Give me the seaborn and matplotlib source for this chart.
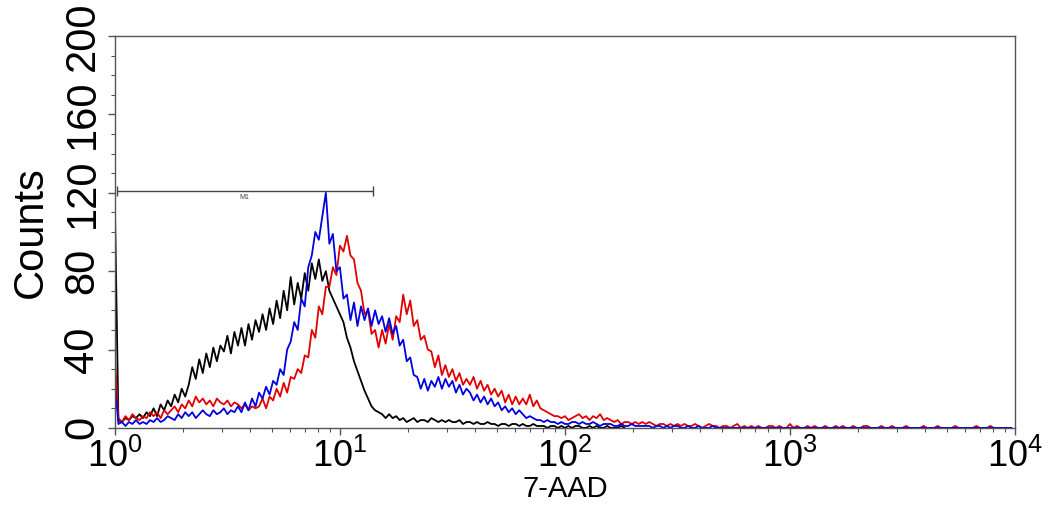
import matplotlib
import matplotlib.pyplot as plt
import matplotlib.ticker as mticker
import numpy as np
import pandas as pd
import seaborn as sns

matplotlib.use("agg")

# channels per decade of the 4-decade log scale
channels_per_decade = 64

# counts per channel (channel 0 = 10^0)
control_counts = [
    114, 4, 3, 5, 4, 6, 5, 7, 5, 8, 6,
    10, 6, 12, 9, 14, 11, 17, 13, 20, 16,
    22, 31, 25, 35, 28, 38, 31, 41, 34, 42,
    39, 47, 38, 49, 42, 51, 42, 53, 45, 55,
    49, 58, 50, 61, 53, 65, 56, 70, 60, 77,
    63, 74, 66, 79, 70, 84, 76, 86, 75, 80,
    70, 66, 62, 58, 54, 46, 41, 34, 29, 24,
    19, 15, 11, 9, 8, 7, 5, 7, 5, 6,
    4, 5, 3, 4, 5, 3, 4, 4, 3, 5, 4, 3, 4, 3, 4, 3, 3, 4, 2, 3,
    3, 2, 3, 2, 2, 3, 2, 2, 1, 2, 2, 1, 2, 2, 1, 2, 1, 1, 2, 1,
    1, 1, 0, 1, 1, 0, 1, 0,
    1, 0, 1, 1, 0, 0, 1, 0, 1, 0, 0, 1, 0, 0, 0, 1, 0,
]
treated_a_counts = [
    36, 5, 3, 6, 4, 7, 5, 4, 6, 5, 8,
    6, 8, 5, 9, 7, 9, 11, 8, 12, 10,
    14, 11, 16, 13, 15, 12, 14, 11, 15, 13,
    12, 14, 11, 13, 12, 10, 12, 9, 11, 10,
    11, 15, 10, 16, 14, 20, 16, 23, 18, 26,
    25, 30, 28, 37, 36, 50, 46, 62, 58, 72,
    72, 82, 78, 93, 90, 98, 88, 86, 74, 70,
    58, 60, 48, 50, 41, 50, 43, 53, 45, 57,
    54, 68, 58, 65, 52, 55, 45, 47, 40, 39,
    31, 37, 27, 32, 26, 30, 24, 28, 22, 25,
    22, 26, 20, 24, 19, 22, 17, 20, 16, 19,
    13, 17, 12, 16, 12, 15, 12, 17, 11, 14,
    10, 9, 8, 7, 6, 6, 5, 6, 4, 5,
    6, 7, 5, 6, 4, 6, 5, 7, 4, 5,
    4, 3, 4, 2, 3, 3, 2, 3, 2, 3,
    2, 3, 2, 1, 2, 2, 1, 2, 1, 2,
    1, 2, 1, 1, 2, 1, 0, 1, 2, 1,
    1, 0, 1, 1, 0, 1, 2, 0, 1, 0,
    1, 0, 1, 0, 0, 1, 1, 0, 1, 0, 0, 2, 0, 1, 0, 0, 1, 0, 1, 0,
    0, 1, 0, 0, 1, 0, 1, 0, 0, 1, 0, 0, 1, 1, 0, 0, 0, 1, 0, 0,
    1, 0, 0, 0, 1, 0, 0, 0, 0, 1, 0, 0, 0, 1, 0, 0, 0, 0, 1, 0,
    0, 0, 0, 0, 1, 0, 0, 0, 1, 0, 0, 0, 0, 0, 0,
]
treated_b_counts = [
    23, 2, 3, 1, 3, 2, 4, 2, 3, 2, 4,
    3, 5, 3, 4, 6, 5, 4, 7, 5, 8,
    6, 8, 5, 7, 9, 7, 6, 9, 7, 8,
    10, 7, 9, 8, 11, 8, 13, 9, 15, 11,
    18, 15, 21, 17, 24, 22, 30, 27, 40, 44,
    54, 50, 66, 62, 82, 88, 100, 96, 108, 120,
    94, 99, 80, 82, 66, 68, 55, 64, 52, 62,
    55, 61, 52, 60, 53, 57, 49, 56, 48, 52,
    42, 45, 34, 36, 27, 26, 20, 25, 19, 24,
    21, 26, 20, 25, 21, 24, 18, 22, 17, 20,
    18, 14, 17, 13, 16, 12, 15, 11, 13, 9,
    11, 8, 10, 7, 9, 7, 5, 6, 5, 4,
    4, 3, 4, 3, 3, 2, 3, 2, 2, 3,
    3, 2, 3, 2, 2, 3, 2, 1, 2, 2,
    2, 1, 1, 2, 1, 1, 2, 1, 1, 1,
    1, 1, 0, 1, 1, 0, 1, 0, 1, 1, 0, 0, 1, 0, 0, 1, 0, 0, 0, 1,
] + [0] * 85

sample_order = ["control", "treated_a", "treated_b"]
sample_colors = ["#000000", "#e00000", "#0000e0"]

# M1 gate marker
gate_lo, gate_hi, gate_y = 1.02, 14.0, 121

series = dict(zip(sample_order, [control_counts, treated_a_counts, treated_b_counts]))
frames = []
for name, counts in series.items():
    ch = np.arange(len(counts))
    frames.append(pd.DataFrame({
        "intensity": 10 ** (ch / channels_per_decade),
        "count": counts,
        "sample": name,
    }))
df = pd.concat(frames, ignore_index=True)

sns.set_theme(style="ticks")
plt.rcParams["font.family"] = ["Liberation Sans", "DejaVu Sans"]
plt.rcParams["mathtext.default"] = "regular"

fig = plt.figure(figsize=(10.54, 5.07), dpi=100)
ax = fig.add_axes([0.109, 0.156, 0.854, 0.773])
ax.set_xscale("log")

sns.lineplot(
    data=df, x="intensity", y="count", hue="sample",
    hue_order=sample_order, palette=sample_colors,
    estimator=None, sort=False, legend=False, linewidth=1.3, ax=ax,
)

ax.hlines(gate_y, gate_lo, gate_hi, color="#444444", linewidth=1)
ax.vlines([gate_lo, gate_hi], gate_y - 2.5, gate_y + 2.5, color="#444444", linewidth=1)
ax.text(np.sqrt(gate_lo * gate_hi), gate_y - 1.5, "M1", ha="center", va="top",
        fontsize=5, color="#444444")

ax.set_xlim(1, 1e4)
ax.set_ylim(0, 200)
ax.yaxis.set_major_locator(mticker.MultipleLocator(40))
ax.yaxis.set_minor_locator(mticker.MultipleLocator(10))
ax.xaxis.set_major_locator(mticker.LogLocator(base=10))
ax.xaxis.set_minor_locator(mticker.LogLocator(base=10, subs=np.arange(2, 10)))

for s in ax.spines.values():
    s.set_color("#555555")
    s.set_linewidth(1)
ax.tick_params(which="major", direction="out", length=5, width=1, color="#555555",
               labelcolor="black", pad=4)
ax.tick_params(which="minor", direction="out", length=3, width=0.8, color="#555555")
ax.tick_params(axis="y", labelsize=30, labelrotation=90)
ax.tick_params(axis="x", labelsize=26, pad=3)
for lab in ax.get_yticklabels():
    lab.set_va("center")

ax.set_xlabel("7-AAD", fontsize=21, color="black", va="top")
ax.xaxis.set_label_coords(0.5, -0.12)
ax.set_ylabel("Counts", fontsize=30, color="black", labelpad=8)

fig.savefig("out.png", dpi=100)
